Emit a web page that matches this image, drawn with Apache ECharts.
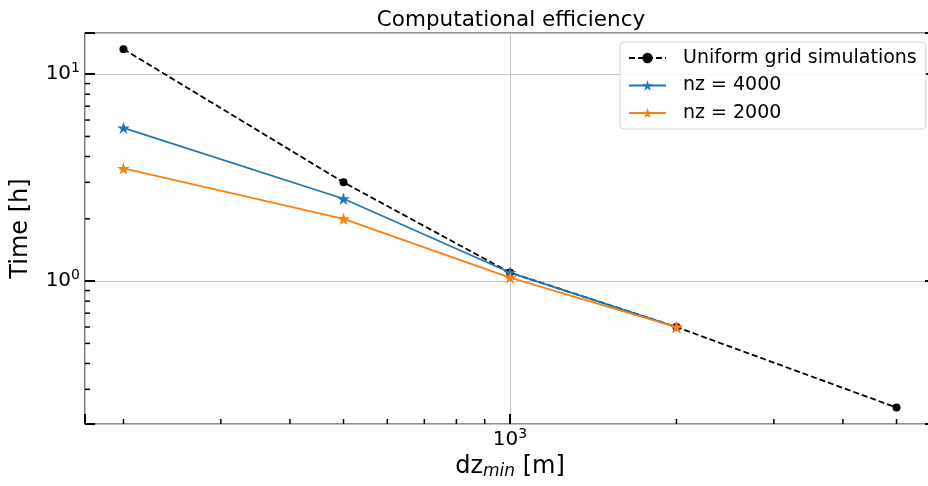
<!DOCTYPE html>
<html>
<head>
<meta charset="utf-8">
<script src="https://cdn.jsdelivr.net/npm/echarts@6/dist/echarts.min.js"></script>
<style>
  html, body { margin: 0; padding: 0; background: #fff; }
  #chart { width: 928px; height: 486px; }
</style>
</head>
<body>
<div id="chart"></div>
<script>
// Grid spacing dz_min [m] and wall-clock time [h]
const dzMin = [200, 500, 1000, 2000, 5000];
const uniformTime = [13.2, 3.0, 1.1, 0.6, 0.245];
const nz4000Time = [5.5, 2.5, 1.1, 0.6];
const nz2000Time = [3.5, 2.0, 1.04, 0.6];

// Labelled decades on each axis
const xMajorTicks = [1000];
const yMajorTicks = [1, 10];

const X_MIN = 170.4, X_MAX = 5869;
const Y_MIN = 0.204, Y_MAX = 15.8;

const FONT = 'DejaVu Sans';

function pairs(xs, ys) {
  return ys.map((y, i) => [xs[i], y]);
}

// Minor log ticks: 2..9 times each decade inside [lo, hi]
function minorTicks(lo, hi) {
  const out = [];
  for (let d = Math.floor(Math.log10(lo)); d <= Math.ceil(Math.log10(hi)); d++) {
    for (let k = 2; k <= 9; k++) {
      const v = k * Math.pow(10, d);
      if (v > lo && v < hi) out.push(v);
    }
  }
  return out;
}

function powerLabel(majors) {
  return function (v) {
    const hit = majors.find(m => Math.abs(Math.log10(v) - Math.log10(m)) < 1e-6);
    if (hit === undefined) return '';
    return '{b|10}{s|' + Math.round(Math.log10(hit)) + '}';
  };
}

const labelRich = {
  b: { fontFamily: FONT, fontSize: 20, color: '#000' },
  s: { fontFamily: FONT, fontSize: 14, color: '#000', padding: [0, 0, 11, 0] }
};

const starPath = 'path://M0,-100 L22.5,-30.9 L95.1,-30.9 L36.3,11.8 L58.8,80.9 L0,38.2 L-58.8,80.9 L-36.3,11.8 L-95.1,-30.9 L-22.5,-30.9 Z';

const chart = echarts.init(document.getElementById('chart'), null, { renderer: 'canvas' });

const tickStyle = { color: '#000', width: 2 };

chart.setOption({
  animation: false,
  backgroundColor: '#fff',
  title: {
    text: 'Computational efficiency',
    left: 506,
    top: 4,
    textAlign: 'center',
    textStyle: { fontFamily: FONT, fontSize: 21.5, fontWeight: 'normal', color: '#000' }
  },
  grid: {
    left: 85, top: 33, width: 850, height: 391,
    outerBoundsMode: 'none',
    containLabel: false,
    show: true, borderColor: '#222', borderWidth: 1.2, backgroundColor: 'transparent'
  },
  legend: {
    orient: 'vertical',
    left: 620,
    top: 42,
    data: ['Uniform grid simulations', 'nz = 4000', 'nz = 2000'],
    itemWidth: 37,
    itemHeight: 13,
    itemGap: 5.5,
    padding: [5, 9, 5, 8],
    backgroundColor: 'rgba(255,255,255,0.85)',
    borderColor: '#d4d4d4',
    borderWidth: 1,
    borderRadius: 4,
    textStyle: { fontFamily: FONT, fontSize: 19, lineHeight: 22, color: '#000', padding: [0, 0, 0, 12] }
  },
  xAxis: {
    type: 'log',
    min: X_MIN,
    max: X_MAX,
    name: '{a|dz}{m|min}{a| [m]}',
    nameLocation: 'middle',
    nameGap: 30,
    nameTextStyle: {
      rich: {
        a: { fontFamily: FONT, fontSize: 24, color: '#000' },
        m: { fontFamily: FONT, fontSize: 17, fontStyle: 'italic', color: '#000', padding: [9, 0, 0, 0] }
      }
    },
    axisLine: { show: false },
    axisTick: { show: true, inside: true, length: 10, lineStyle: tickStyle },
    axisLabel: { formatter: powerLabel(xMajorTicks), margin: 3, rich: labelRich },
    splitLine: { show: true, lineStyle: { color: '#c4c4c4', width: 1 } },
    minorTick: { show: false }
  },
  yAxis: [{
    type: 'log',
    min: Y_MIN,
    max: Y_MAX,
    name: 'Time [h]',
    nameLocation: 'middle',
    nameGap: 52,
    nameTextStyle: { fontFamily: FONT, fontSize: 24, color: '#000' },
    axisLine: { show: false },
    axisTick: { show: true, inside: true, length: 10, lineStyle: tickStyle },
    axisLabel: { formatter: powerLabel(yMajorTicks), margin: 5, rich: labelRich },
    splitLine: { show: true, lineStyle: { color: '#c4c4c4', width: 1 } }
  }, {
    type: 'log',
    position: 'right',
    min: Y_MIN,
    max: Y_MAX,
    axisLine: { show: false },
    axisTick: { show: true, inside: true, length: 10, lineStyle: tickStyle },
    axisLabel: { show: false },
    splitLine: { show: false }
  }],
  series: [
    {
      type: 'custom',
      name: 'xMinor',
      silent: true,
      clip: false,
      xAxisIndex: 0, yAxisIndex: 0,
      data: minorTicks(X_MIN, X_MAX).map(v => [v, 1]),
      renderItem: function (params, api) {
        const cs = params.coordSys;
        const p = api.coord([api.value(0), 1]);
        const yb = cs.y + cs.height;
        return { type: 'line', shape: { x1: p[0], y1: yb, x2: p[0], y2: yb - 5 },
                 style: { stroke: '#000', lineWidth: 1.5 } };
      },
      z: 5
    },
    {
      type: 'custom',
      name: 'yMinor',
      silent: true,
      clip: false,
      xAxisIndex: 0, yAxisIndex: 0,
      data: minorTicks(Y_MIN, Y_MAX).map(v => [1000, v]),
      renderItem: function (params, api) {
        const cs = params.coordSys;
        const p = api.coord([1000, api.value(1)]);
        return { type: 'line', shape: { x1: cs.x, y1: p[1], x2: cs.x + 5, y2: p[1] },
                 style: { stroke: '#000', lineWidth: 1.5 } };
      },
      z: 5
    },
    {
      name: 'Uniform grid simulations',
      type: 'line',
      data: pairs(dzMin, uniformTime),
      symbol: 'circle',
      symbolSize: 8,
      lineStyle: { color: '#000', width: 1.8, type: [6, 3] },
      itemStyle: { color: '#000' },
      z: 3
    },
    {
      name: 'nz = 4000',
      type: 'line',
      data: pairs(dzMin, nz4000Time),
      symbol: starPath,
      symbolKeepAspect: true,
      symbolSize: 13,
      lineStyle: { color: '#1f77b4', width: 1.8 },
      itemStyle: { color: '#1f77b4' },
      z: 3
    },
    {
      name: 'nz = 2000',
      type: 'line',
      data: pairs(dzMin, nz2000Time),
      symbol: starPath,
      symbolKeepAspect: true,
      symbolSize: 13,
      lineStyle: { color: '#ff7f0e', width: 1.8 },
      itemStyle: { color: '#ff7f0e' },
      z: 3
    }
  ]
});
</script>
</body>
</html>
